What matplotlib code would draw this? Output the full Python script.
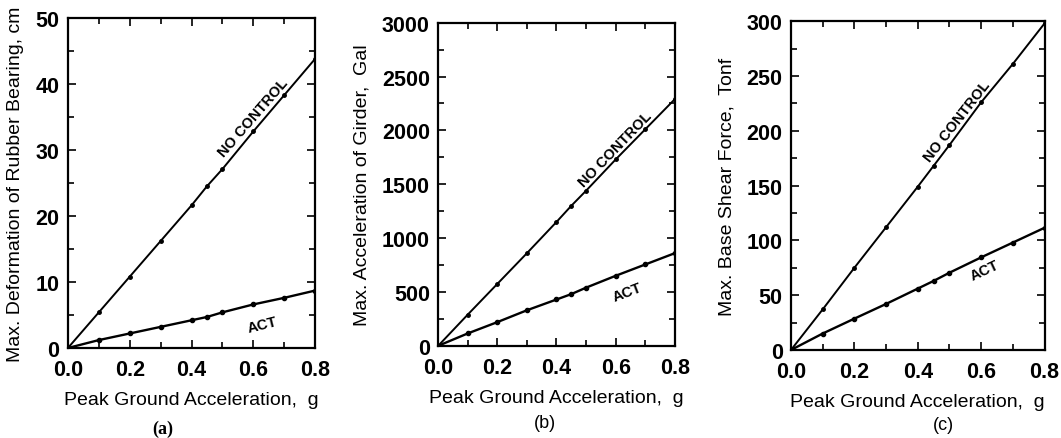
import numpy as np
import matplotlib.pyplot as plt
from matplotlib.ticker import MultipleLocator

plt.rcParams['font.family'] = ['Liberation Sans', 'DejaVu Sans']

# peak ground acceleration, g
pga = [0.0, 0.1, 0.2, 0.3, 0.4, 0.45, 0.5, 0.6, 0.7, 0.8]

# (a) max deformation of rubber bearing, cm
defo_nc = [0.0, 5.4, 10.8, 16.2, 21.6, 24.5, 27.1, 32.8, 38.3, 43.8]
defo_act = [0.0, 1.2, 2.2, 3.2, 4.2, 4.7, 5.4, 6.6, 7.6, 8.7]

# (b) max acceleration of girder, Gal
acc_nc = [0.0, 290, 575, 860, 1150, 1300, 1440, 1730, 2010, 2290]
acc_act = [0.0, 115, 220, 330, 430, 480, 540, 650, 755, 860]

# (c) max base shear force, tonf
shear_nc = [0.0, 37, 75, 112, 149, 168, 187, 226, 261, 298]
shear_act = [0.0, 15, 28.6, 42, 56, 63, 70.5, 84.5, 98, 111.5]

panels = [
    dict(pos=[0.064, 0.205, 0.233, 0.752], nc=defo_nc, act=defo_act, ymax=50,
         major=10, minor=5, ylabel='Max. Deformation of Rubber Bearing, cm',
         cap='(a)', cap_xy=(163, 429), cap_serif=True,
         nc_txt=(0.60, 35.0, 49), act_txt=(0.63, 3.6, 14)),
    dict(pos=[0.413, 0.210, 0.223, 0.736], nc=acc_nc, act=acc_act, ymax=3000,
         major=500, minor=250, ylabel='Max. Acceleration of Girder,  Gal',
         cap='(b)', cap_xy=(545, 424), cap_serif=False,
         nc_txt=(0.60, 1830, 46), act_txt=(0.64, 505, 21)),
    dict(pos=[0.7455, 0.2005, 0.239, 0.749], nc=shear_nc, act=shear_act, ymax=300,
         major=50, minor=25, ylabel='Max. Base Shear Force,  Tonf',
         cap='(c)', cap_xy=(943, 426), cap_serif=False,
         nc_txt=(0.525, 209, 52), act_txt=(0.61, 73, 25)),
]

fig = plt.figure(figsize=(10.61, 4.39), dpi=100)

for p in panels:
    ax = fig.add_axes(p['pos'])
    ax.plot(pga, p['nc'], '-', color='black', lw=1.4, marker='o', ms=2.5)
    ax.plot(pga, p['act'], '-', color='black', lw=1.7, marker='o', ms=3)
    ax.set_xlim(0, 0.8)
    ax.set_ylim(0, p['ymax'])
    ax.xaxis.set_minor_locator(MultipleLocator(0.1))
    ax.yaxis.set_major_locator(MultipleLocator(p['major']))
    ax.yaxis.set_minor_locator(MultipleLocator(p['minor']))
    ax.set_xticks([0, 0.2, 0.4, 0.6, 0.8])
    ax.set_xticklabels(['0.0', '0.2', '0.4', '0.6', '0.8'])
    ax.tick_params(which='both', direction='in', top=True, right=True, width=1.2)
    ax.tick_params(which='major', length=6, labelsize=15.5)
    ax.tick_params(which='minor', length=4)
    ax.tick_params(axis='x', which='major', pad=8)
    ax.tick_params(axis='y', which='major', pad=6)
    for lab in ax.get_xticklabels() + ax.get_yticklabels():
        lab.set_fontweight('bold')
    for s in ax.spines.values():
        s.set_linewidth(1.6)
    ax.set_xlabel('Peak Ground Acceleration,  g', fontsize=14, labelpad=8)
    ax.set_ylabel(p['ylabel'], fontsize=14, labelpad=8)
    x, y, r = p['nc_txt']
    ax.text(x, y, 'NO CONTROL', rotation=r, ha='center', va='center', fontsize=10.5,
            fontweight='bold', rotation_mode='anchor')
    x, y, r = p['act_txt']
    ax.text(x, y, 'ACT', rotation=r, ha='center', va='center', fontsize=10.5,
            fontweight='bold', rotation_mode='anchor')
    cx, cy = p['cap_xy']
    fam = 'Liberation Serif' if p['cap_serif'] else 'Liberation Sans'
    fig.text(cx / 1061, 1 - cy / 439, p['cap'], ha='center', va='center',
             fontsize=13, family=fam, fontweight='bold' if p['cap_serif'] else 'normal')

fig.savefig('out.png', dpi=100, facecolor='white')
